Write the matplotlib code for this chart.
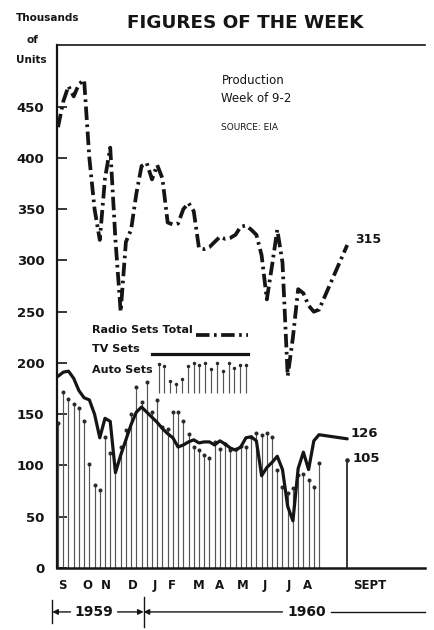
import numpy as np
import matplotlib
matplotlib.use('Agg')
import matplotlib.pyplot as plt
import matplotlib.transforms as mtransforms

# weekly production, thousands of units (Sep 1959 - Aug 1960), plus week of 9-2
weeks = np.arange(51)
sept_pos = 55.4

auto_sets = [141, 172, 165, 160, 156, 143, 101, 81, 76, 128,
             112, 100, 118, 135, 150, 177, 162, 181, 152, 164,
             138, 136, 152, 152, 143, 131, 118, 115, 110, 107,
             123, 116, 121, 115, 116, 119, 118, 128, 132, 130,
             132, 128, 96, 79, 73, 78, 91, 92, 86, 79, 102]
tv_sets = [187, 191, 192, 185, 173, 166, 164, 150, 127, 146,
           143, 93, 110, 125, 140, 152, 157, 152, 147, 142,
           136, 131, 127, 118, 120, 123, 125, 122, 123, 123,
           120, 124, 121, 117, 115, 118, 127, 128, 124, 90,
           98, 103, 109, 96, 60, 46, 97, 113, 96, 124, 130]
radio_sets = [430, 455, 470, 460, 472, 476, 400, 350, 320, 380,
              410, 320, 250, 318, 330, 365, 392, 395, 379, 393,
              380, 337, 335, 336, 350, 356, 348, 312, 311, 313,
              318, 323, 321, 322, 325, 333, 334, 330, 325, 305,
              262, 295, 330, 298, 187, 225, 272, 268, 256, 250, 252]
auto_sept = 105
tv_sept = 126
radio_sept = 315

month_pos = [0.8, 5.6, 9.2, 14.3, 18.6, 21.8, 27.0, 31.0, 35.4, 39.7, 44.2, 47.7, 59.8]
month_labels = ['S', 'O', 'N', 'D', 'J', 'F', 'M', 'A', 'M', 'J', 'J', 'A', 'SEPT']
yticks = list(range(0, 451, 50))

# little sample bars for the legend (axes fraction tops)
legend_bar_tops = [0.39, 0.386, 0.358, 0.352, 0.362, 0.386, 0.392, 0.388,
                   0.392, 0.38, 0.392, 0.376, 0.392, 0.382, 0.388, 0.388]

font = 'DejaVu Sans'
ink = '#151515'

fig = plt.figure(figsize=(4.35, 6.3), dpi=100)
ax = fig.add_axes([0.131, 0.0984, 0.846, 0.830])

# auto sets: thin lollipop bars
ax.vlines(weeks, 0, auto_sets, color='#555555', lw=0.85)
ax.plot(weeks, auto_sets, 'o', ms=1.9, color='#2a2a2a')
ax.vlines(sept_pos, 0, auto_sept, color='#2a2a2a', lw=1.3)
ax.plot(sept_pos, auto_sept, 'o', ms=2.3, color='#2a2a2a')

# tv sets: heavy solid line
ax.plot(list(weeks) + [sept_pos], tv_sets + [tv_sept], color=ink, lw=2.3,
        solid_joinstyle='round', solid_capstyle='round')

# radio sets: heavy dash-dot line
ax.plot(list(weeks) + [sept_pos], radio_sets + [radio_sept], color=ink, lw=2.7,
        dashes=(3.6, 1.2, 0.7, 1.2))

ax.set_xlim(-0.2, 70.3)
ax.set_ylim(0, 510)

ax.spines['right'].set_visible(False)
ax.spines['top'].set_linewidth(1.2)
ax.spines['left'].set_linewidth(1.6)
ax.spines['bottom'].set_linewidth(1.8)
for s in ax.spines.values():
    s.set_color(ink)

ax.set_yticks(yticks)
ax.set_yticklabels([str(v) for v in yticks], fontsize=9.5, fontweight='bold',
                   family=font, color=ink)
ax.tick_params(axis='y', direction='in', length=7, width=1.2, pad=9, color=ink)
ax.set_xticks(month_pos)
ax.set_xticklabels(month_labels, fontsize=8.5, fontweight='bold', family=font, color=ink)
ax.tick_params(axis='x', length=0, pad=8)

# end-value labels
ax.text(57.0, 320, '315', fontsize=9, fontweight='bold', family=font, color=ink,
        va='center', ha='left')
ax.text(56.0, 131, '126', fontsize=9.5, fontweight='bold', family=font, color=ink,
        va='center', ha='left')
ax.text(56.4, 107, '105', fontsize=9.5, fontweight='bold', family=font, color=ink,
        va='center', ha='left')

# legend drawn in axes fraction
lt = dict(fontsize=8, fontweight='bold', family=font, color=ink, transform=ax.transAxes,
          va='center', ha='left')
ax.text(0.095, 0.456, 'Radio Sets Total', **lt)
ax.plot([0.378, 0.519], [0.446, 0.446], color=ink, lw=2.7, dashes=(3.6, 1.2, 0.7, 1.2),
        transform=ax.transAxes)
ax.text(0.095, 0.418, 'TV Sets', **lt)
ax.plot([0.258, 0.519], [0.409, 0.409], color=ink, lw=2.3, transform=ax.transAxes)
ax.text(0.095, 0.378, 'Auto Sets', **lt)
lb_x = np.linspace(0.276, 0.514, len(legend_bar_tops))
ax.vlines(lb_x, 0.334, legend_bar_tops, color='#555555', lw=0.85, transform=ax.transAxes)
ax.plot(lb_x, legend_bar_tops, 'o', ms=1.5, color='#2a2a2a', transform=ax.transAxes)

# production note
ax.text(0.447, 0.933, 'Production', fontsize=8.5, family=font, color=ink,
        transform=ax.transAxes, va='center')
ax.text(0.447, 0.898, 'Week of 9-2', fontsize=8.5, family=font, color=ink,
        transform=ax.transAxes, va='center')
ax.text(0.447, 0.843, 'SOURCE: EIA', fontsize=6.5, family=font, color=ink,
        transform=ax.transAxes, va='center')

# title and unit label
fig.text(0.563, 0.964, 'FIGURES OF THE WEEK', fontsize=13.2, fontweight='bold',
         family=font, color=ink, ha='center', va='center')
fig.text(0.11, 0.971, 'Thousands', fontsize=7.5, fontweight='bold', family=font,
         color=ink, ha='center', va='center')
fig.text(0.075, 0.937, 'of', fontsize=7.5, fontweight='bold', family=font,
         color=ink, ha='center', va='center')
fig.text(0.072, 0.905, 'Units', fontsize=7.5, fontweight='bold', family=font,
         color=ink, ha='center', va='center')

# year span markers under the month labels
trans = mtransforms.blended_transform_factory(ax.transData, ax.transAxes)
yy = -0.084
ap = dict(arrowstyle='-|>', color=ink, lw=1.0, mutation_scale=8, shrinkA=0, shrinkB=0)
ax.plot([-1.1, -1.1], [yy - 0.022, yy + 0.022], color=ink, lw=1.0, transform=trans,
        clip_on=False)
ax.plot([16.4, 16.4], [yy - 0.028, yy + 0.028], color=ink, lw=1.0, transform=trans,
        clip_on=False)
ax.annotate('', xy=(-1.1, yy), xytext=(2.4, yy), xycoords=trans, textcoords=trans,
            arrowprops=ap)
ax.text(6.9, yy, '1959', fontsize=10, fontweight='bold', family=font, color=ink,
        transform=trans, ha='center', va='center')
ax.annotate('', xy=(16.4, yy), xytext=(11.4, yy), xycoords=trans, textcoords=trans,
            arrowprops=ap)
ax.annotate('', xy=(16.4, yy), xytext=(43.0, yy), xycoords=trans, textcoords=trans,
            arrowprops=ap)
ax.text(47.6, yy, '1960', fontsize=10, fontweight='bold', family=font, color=ink,
        transform=trans, ha='center', va='center')
ax.plot([52.2, 70.3], [yy, yy], color=ink, lw=1.0, transform=trans, clip_on=False)

fig.savefig('out.png', dpi=100, facecolor='white')
